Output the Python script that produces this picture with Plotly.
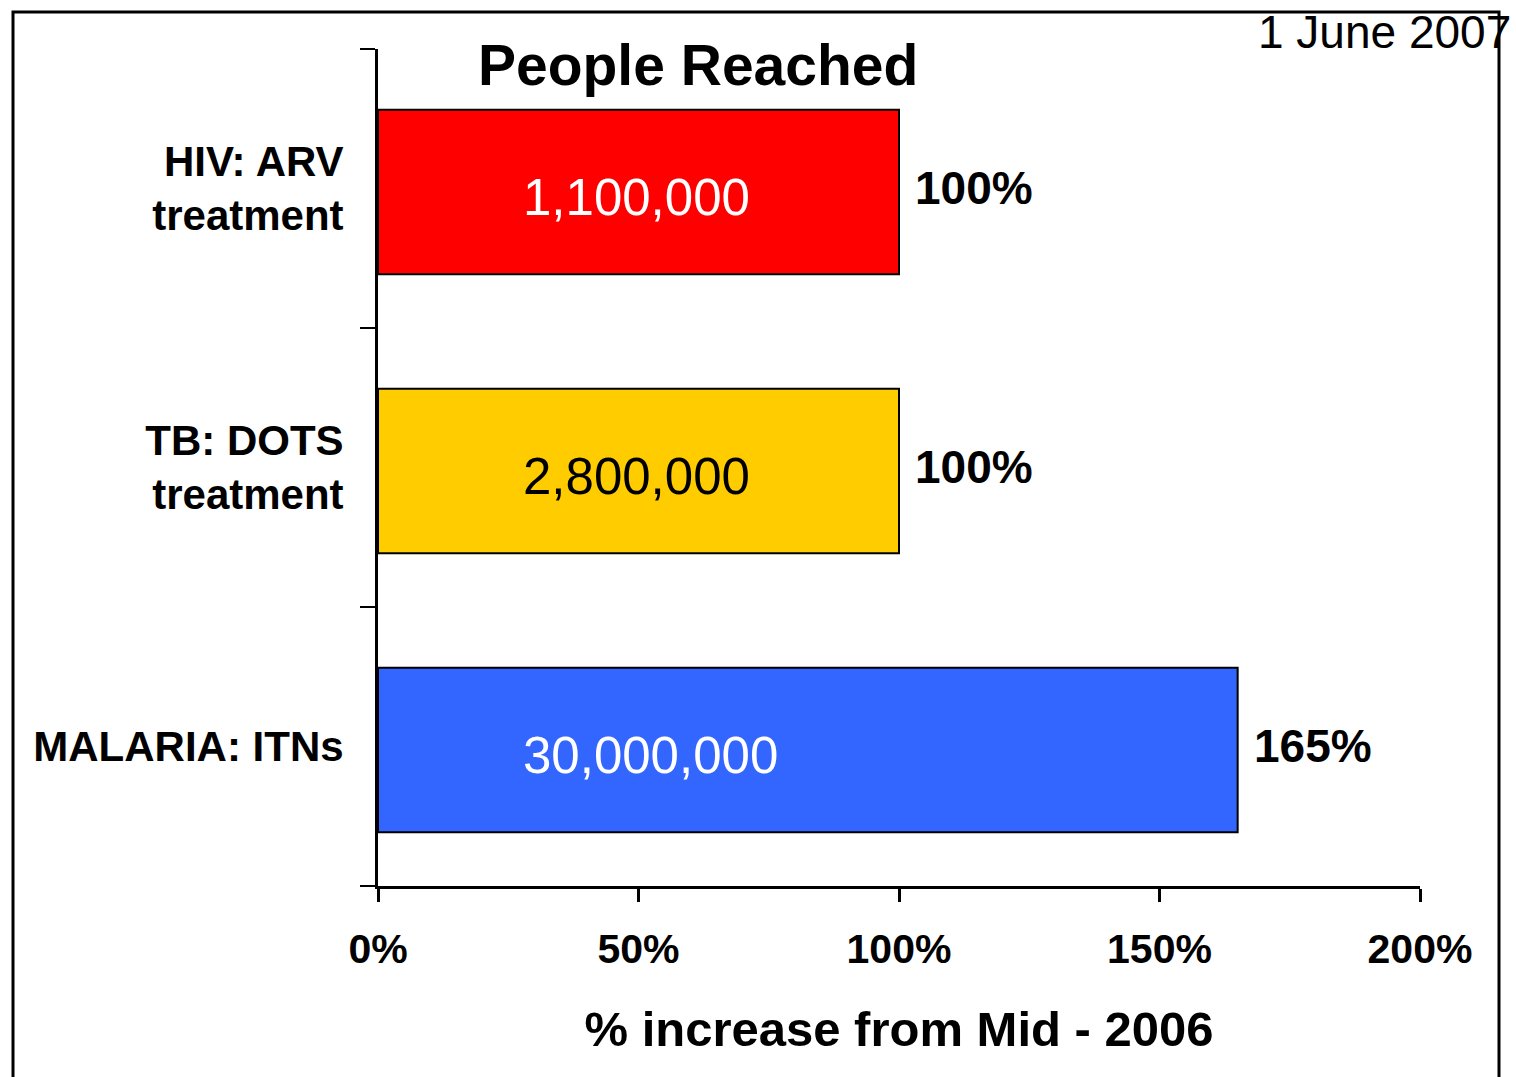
import plotly.graph_objects as go

# ---- data ----
categories = ["HIV: ARV<br>treatment", "TB: DOTS<br>treatment", "MALARIA: ITNs"]
pct_increase = [100, 100, 165]
people_reached = ["1,100,000", "2,800,000", "30,000,000"]
bar_colors = ["#FF0000", "#FFCC00", "#3366FF"]
inner_text_colors = ["#FFFFFF", "#000000", "#FFFFFF"]
x_tick_vals = [0, 50, 100, 150, 200]
x_tick_text = ["0%", "50%", "100%", "150%", "200%"]

FONT = "Liberation Sans, Arial, sans-serif"
W, H = 1516, 1077
L, R, T, B = 378, 96, 49, 191
pw, ph = W - L - R, H - T - B


def px_x(px):
    return (px - L) / pw


def px_y(py):
    return (H - B - py) / ph


BAR_W = 0.59
BAR_SHIFT = 0.0125

fig = go.Figure()
fig.add_trace(go.Bar(
    y=categories,
    x=pct_increase,
    orientation="h",
    width=BAR_W,
    offset=-BAR_W / 2 + BAR_SHIFT,
    marker=dict(color=bar_colors, line=dict(color="black", width=2)),
    hoverinfo="skip",
    showlegend=False,
))

annotations = []
for cat, val, txt, tc in zip(categories, pct_increase, people_reached, inner_text_colors):
    annotations.append(dict(
        x=27.5, y=cat, xref="x", yref="y", text=txt, showarrow=False,
        xanchor="left", yanchor="middle", yshift=-9,
        font=dict(family=FONT, size=51, color=tc),
    ))
    annotations.append(dict(
        x=val, y=cat, xref="x", yref="y", text=f"<b>{val}%</b>", showarrow=False,
        xanchor="left", yanchor="middle", xshift=14, yshift=1,
        font=dict(family=FONT, size=46, color="black"),
    ))

annotations.append(dict(
    x=px_x(698), y=px_y(65), xref="paper", yref="paper",
    text="<b>People Reached</b>", showarrow=False,
    xanchor="center", yanchor="middle",
    font=dict(family=FONT, size=57, color="black"),
))
annotations.append(dict(
    x=px_x(1513), y=px_y(32), xref="paper", yref="paper",
    text="1 June 2007", showarrow=False,
    xanchor="right", yanchor="middle",
    font=dict(family=FONT, size=46, color="black"),
))

fig.update_layout(
    width=W, height=H, autosize=False,
    margin=dict(l=L, r=R, t=T, b=B, pad=0),
    paper_bgcolor="white", plot_bgcolor="white",
    font=dict(family=FONT, color="black"),
    annotations=annotations,
    shapes=[dict(
        type="rect", xref="paper", yref="paper",
        x0=px_x(13), x1=px_x(1499), y0=px_y(1100), y1=px_y(12),
        line=dict(color="black", width=3), fillcolor="rgba(0,0,0,0)", layer="above",
    )],
    xaxis=dict(
        range=[0, 200], tickmode="array", tickvals=x_tick_vals,
        ticktext=[f"<b>{t}</b>" for t in x_tick_text],
        showgrid=False, zeroline=False, showline=True, linecolor="black", linewidth=3,
        ticks="outside", ticklen=13, tickwidth=3, tickcolor="black",
        tickfont=dict(family=FONT, size=41, color="black"),
        ticklabelstandoff=12,
        title=dict(text="<b>% increase from Mid - 2006</b>", standoff=41,
                   font=dict(family=FONT, size=49, color="black")),
        fixedrange=True,
    ),
    yaxis=dict(
        type="category", categoryorder="array", categoryarray=categories,
        tickmode="array", tickvals=categories,
        ticktext=[f"<b>{c}</b>".replace("<br>", "</b><br><b>") for c in categories],
        range=[2.5, -0.5],
        showgrid=False, zeroline=False, showline=True, linecolor="black", linewidth=3,
        ticks="outside", tickson="boundaries", ticklen=15, tickwidth=2, tickcolor="black",
        tickfont=dict(family=FONT, size=42, color="black"),
        ticklabelstandoff=23,
        fixedrange=True,
    ),
)

fig.write_html("out.html", config={"displayModeBar": False},
               post_script="document.body.style.margin='0';")
